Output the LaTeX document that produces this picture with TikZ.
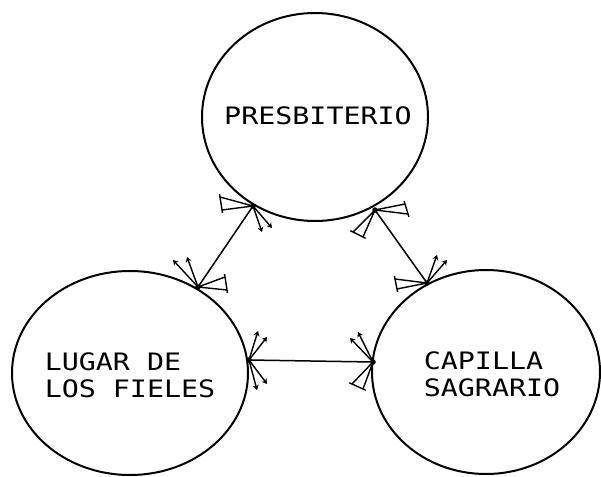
\documentclass[tikz,border=0pt]{standalone}
\usepackage{fontspec}
\newfontfamily\typefont{DejaVu Sans Mono}
\usetikzlibrary{shapes.geometric,arrows.meta,calc}
\newcommand\spreadtxt[1]{\scalebox{1.18}[1]{#1}}
\begin{document}
\begin{tikzpicture}[x=1pt,y=-1pt,
  room/.style={draw, ellipse, line width=2pt, inner sep=0pt},
  roomtext/.style={font=\typefont\fontsize{24}{27}\selectfont, align=left, inner sep=0pt},
  link/.style={line width=1.5pt},
  fanline/.style={line width=1.4pt},
  fanarrow/.style={line width=1.4pt, -{Stealth[length=5pt,width=6pt]}},
  joint/.style={fill, circle, inner sep=0pt, minimum size=5.5pt}
]
\useasboundingbox (0,0) rectangle (601,476);
% rooms
\node[room, minimum width=226pt, minimum height=208pt] (P) at (315,117) {};
\node[room, minimum width=236pt, minimum height=204pt] (L) at (130,373) {};
\node[room, minimum width=228pt, minimum height=204pt] (C) at (486,372) {};
% texts
\node[roomtext] (tP) at (318,116) {\spreadtxt{PRESBITERIO}};
\node[roomtext] (tL) at (130,375) {\spreadtxt{LUGAR DE}\\\spreadtxt{LOS FIELES}};
\node[roomtext] (tC) at (492,374) {\spreadtxt{CAPILLA}\\\spreadtxt{SAGRARIO}};
% junctions
\node[joint] (j1) at (253,206) {};
\node[joint] (j2) at (375,210) {};
\node[joint] (j3) at (198,287) {};
\node[joint] (j4) at (427,283) {};
\node[joint] (j5) at (249,360) {};
\node[joint] (j6) at (373,362) {};
% connectors
\draw[link] (j1.center) -- (j3.center);
\draw[link] (j2.center) -- (j4.center);
\draw[link] (j5.center) -- (j6.center);
% fan ends
\coordinate (a1) at (220,197); \coordinate (a2) at (222,210);
\coordinate (b1) at (262,232); \coordinate (b2) at (272,228);
\coordinate (c1) at (405,204); \coordinate (c2) at (408,214);
\coordinate (d1) at (353,232); \coordinate (d2) at (363,237);
\coordinate (e1) at (173,260); \coordinate (e2) at (187,257);
\coordinate (f1) at (225,277); \coordinate (f2) at (227,290);
\coordinate (g1) at (437,255); \coordinate (g2) at (447,260);
\coordinate (h1) at (395,279); \coordinate (h2) at (397,289);
\coordinate (k1) at (258,331); \coordinate (k2) at (267,337);
\coordinate (m1) at (257,390); \coordinate (m2) at (267,384);
\coordinate (n1) at (350,338); \coordinate (n2) at (358,332);
\coordinate (p1) at (352,384); \coordinate (p2) at (363,389);
% bar fans: two lines closed by a bar
\foreach \j/\u/\v in {j1/a1/a2, j2/c1/c2, j2/d1/d2, j3/f1/f2, j4/h1/h2, j6/p1/p2}{
  \draw[fanline] (\j.center) -- (\u) (\j.center) -- (\v);
  \draw[fanline] ($(\u)!-3pt!(\v)$) -- ($(\v)!-3pt!(\u)$);
}
% arrow fans
\foreach \j/\u/\v in {j1/b1/b2, j3/e1/e2, j4/g1/g2, j5/k1/k2, j5/m1/m2, j6/n1/n2}{
  \draw[fanarrow] (\j.center) -- (\u);
  \draw[fanarrow] (\j.center) -- (\v);
}
\end{tikzpicture}
\end{document}
